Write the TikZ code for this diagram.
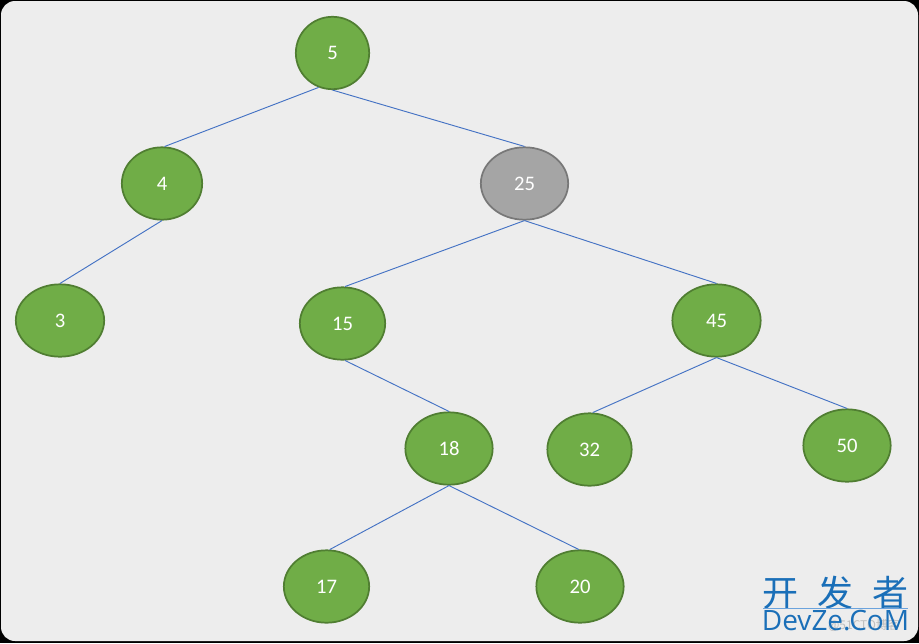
\documentclass[tikz,border=0pt]{standalone}
\usepackage{fontspec}
\usepackage{xcolor}
\usetikzlibrary{shapes.geometric}
\setmainfont{Carlito}
\newfontfamily\cjkfont{Noto Sans CJK SC}
\newfontfamily\markfont{Open Sans}
\definecolor{pagebg}{HTML}{EDEDED}
\definecolor{keygreen}{HTML}{70AD47}
\definecolor{keygreenline}{HTML}{507E32}
\definecolor{keygray}{HTML}{A5A5A5}
\definecolor{keygrayline}{HTML}{787878}
\definecolor{edgeblue}{HTML}{4472C4}
\definecolor{markblue}{HTML}{1A6FB8}
\tikzset{
  keynode/.style={ellipse,draw=keygreenline,fill=keygreen,line width=1.3pt,
    minimum height=54.3pt,inner sep=0pt,text=white,font=\fontsize{15.5}{17}\selectfont},
  removednode/.style={keynode,draw=keygrayline,fill=keygray},
  treeedge/.style={draw=edgeblue,line width=0.7pt},
  marktext/.style={text=markblue,inner sep=0pt,anchor=center}
}
\begin{document}
\begin{tikzpicture}[x=0.75pt,y=-0.75pt]
  \useasboundingbox (0,0) rectangle (919,643);
  \fill[black] (0,0) rectangle (919,643);
  \fill[pagebg,rounded corners=10.5pt] (1,1) rectangle (918,641);

  \node[keynode,minimum width=55pt] (n5) at (332.5,53) {5};
  \node[keynode,minimum width=60.25pt] (n4) at (162,183.5) {4};
  \node[removednode,minimum width=65.5pt] (n25) at (524.5,183.5) {25};
  \node[keynode,minimum width=66.25pt] (n3) at (60,320.5) {3};
  \node[keynode,minimum width=64pt] (n15) at (342.5,323.5) {15};
  \node[keynode,minimum width=66.25pt] (n45) at (716.5,320.5) {45};
  \node[keynode,minimum width=65.5pt] (n18) at (449,448.5) {18};
  \node[keynode,minimum width=63.25pt] (n32) at (589.5,449.5) {32};
  \node[keynode,minimum width=65.5pt] (n50) at (847,445.5) {50};
  \node[keynode,minimum width=64pt] (n17) at (326.5,586.5) {17};
  \node[keynode,minimum width=65.5pt] (n20) at (580,586.5) {20};

  \draw[treeedge] (n5.-112)--(n4.86);
  \draw[treeedge] (n5.south)--(n25.north);
  \draw[treeedge] (n4.south)--(n3.north);
  \draw[treeedge] (n25.south)--(n15.86);
  \draw[treeedge] (n25.south)--(n45.north);
  \draw[treeedge] (n15.-86)--(n18.north);
  \draw[treeedge] (n45.south)--(n32.85);
  \draw[treeedge] (n45.south)--(n50.north);
  \draw[treeedge] (n18.south)--(n17.85);
  \draw[treeedge] (n18.south)--(n20.92);

  % watermark
  \node[text=black!25,font=\cjkfont\fontsize{9}{11}\selectfont,inner sep=0pt] (markgray) at (864,625) {@51CTO博客};
  \node[marktext,font=\cjkfont\fontsize{27}{30}\selectfont] (markcjk) at (835.5,593) {开\hspace{14.5pt}发\hspace{14.5pt}者};
  \node[marktext,font=\markfont\fontsize{21}{24}\selectfont] (markname) at (835.5,621) {DevZe.CoM};
  \coordinate (markstart) at (763,608);
  \coordinate (markend) at (908,608);
  \draw[cyan!60!blue!60,line width=0.5pt] (markstart)--(markend);
\end{tikzpicture}
\end{document}
